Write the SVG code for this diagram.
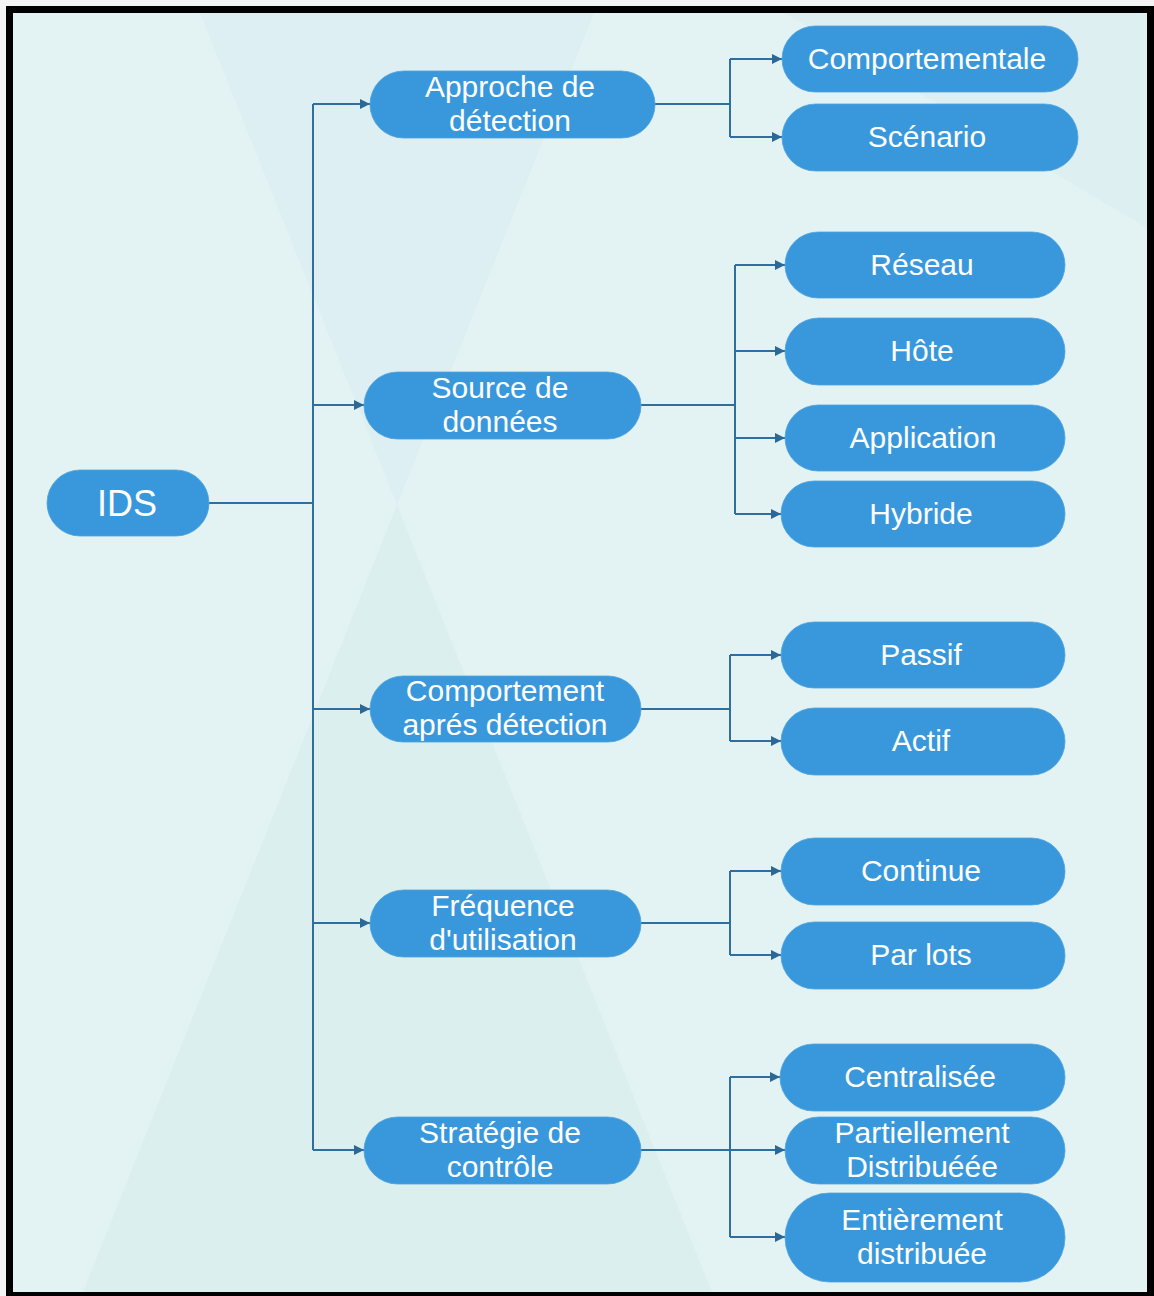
<svg xmlns="http://www.w3.org/2000/svg" width="1154" height="1296" viewBox="0 0 1154 1296">
  <defs>
    <style>
      .node { fill: #3998db; stroke: #4da2de; stroke-width: 0.8; }
      .label { font-family: "Liberation Sans", Arial, sans-serif; font-size: 30px; fill: #ffffff; text-anchor: middle; }
      .big { font-size: 36px; }
      .wire { fill: none; stroke: #2f6f9f; stroke-width: 2; }
      .arrow { marker-end: url(#head); }
    </style>
    <marker id="head" viewBox="0 0 10 10" refX="10" refY="5" markerWidth="11" markerHeight="10" markerUnits="userSpaceOnUse" orient="auto">
      <path d="M0,0 L10,5 L0,10 z" fill="#2b6898"/>
    </marker>
    <clipPath id="inner">
      <rect x="13" y="13" width="1134" height="1279"/>
    </clipPath>
  </defs>

  <!-- page and frame -->
  <rect x="0" y="0" width="1154" height="1296" fill="#f4f4f4"/>
  <rect x="6" y="6" width="1148" height="1290" fill="#000000"/>
  <rect x="13" y="13" width="1134" height="1279" fill="#e3f3f3"/>

  <!-- background facets -->
  <g clip-path="url(#inner)">
    <polygon points="200,13 594,13 397,505" fill="#ddeff2"/>
    <polygon points="397,505 712,1292 83,1292" fill="#dbefee"/>
    <polygon points="785,13 1147,13 1147,228" fill="#ddeff0"/>
  </g>

  <!-- connectors -->
  <g id="connectors">
    <path class="wire" d="M209,503 H313"/>
    <path class="wire" d="M313,104 V1150"/>
    <path class="wire arrow" d="M313,104 H370"/>
    <path class="wire arrow" d="M313,405 H364"/>
    <path class="wire arrow" d="M313,709 H370"/>
    <path class="wire arrow" d="M313,923 H370"/>
    <path class="wire arrow" d="M313,1150 H364"/>

    <path class="wire" d="M655,104 H730 M730,59 V137"/>
    <path class="wire arrow" d="M730,59 H782"/>
    <path class="wire arrow" d="M730,137 H782"/>

    <path class="wire" d="M641,405 H735 M735,265 V514"/>
    <path class="wire arrow" d="M735,265 H785"/>
    <path class="wire arrow" d="M735,351 H785"/>
    <path class="wire arrow" d="M735,438 H785"/>
    <path class="wire arrow" d="M735,514 H781"/>

    <path class="wire" d="M641,709 H730 M730,655 V741"/>
    <path class="wire arrow" d="M730,655 H781"/>
    <path class="wire arrow" d="M730,741 H781"/>

    <path class="wire" d="M641,923 H730 M730,871 V955"/>
    <path class="wire arrow" d="M730,871 H781"/>
    <path class="wire arrow" d="M730,955 H781"/>

    <path class="wire" d="M641,1150 H730 M730,1077 V1237"/>
    <path class="wire arrow" d="M730,1077 H780"/>
    <path class="wire arrow" d="M730,1150 H785"/>
    <path class="wire arrow" d="M730,1237 H785"/>
  </g>

  <!-- root -->
  <g id="ids">
    <rect class="node" x="47" y="470" width="162" height="66" rx="33"/>
    <text class="label big" x="127" y="516">IDS</text>
  </g>

  <!-- first level -->
  <g id="approche">
    <rect class="node" x="370" y="71" width="285" height="67" rx="33.5"/>
    <text class="label" x="510" y="97">Approche de</text>
    <text class="label" x="510" y="131">détection</text>
  </g>
  <g id="source">
    <rect class="node" x="364" y="372" width="277" height="67" rx="33.5"/>
    <text class="label" x="500" y="398">Source de</text>
    <text class="label" x="500" y="432">données</text>
  </g>
  <g id="comportement">
    <rect class="node" x="370" y="676" width="271" height="66" rx="33"/>
    <text class="label" x="505" y="701">Comportement</text>
    <text class="label" x="505" y="735">aprés détection</text>
  </g>
  <g id="frequence">
    <rect class="node" x="370" y="890" width="271" height="67" rx="33.5"/>
    <text class="label" x="503" y="916">Fréquence</text>
    <text class="label" x="503" y="950">d'utilisation</text>
  </g>
  <g id="strategie">
    <rect class="node" x="364" y="1117" width="277" height="67" rx="33.5"/>
    <text class="label" x="500" y="1143">Stratégie de</text>
    <text class="label" x="500" y="1177">contrôle</text>
  </g>

  <!-- second level -->
  <g id="comportementale">
    <rect class="node" x="782" y="26" width="296" height="66" rx="33"/>
    <text class="label" x="927" y="69">Comportementale</text>
  </g>
  <g id="scenario">
    <rect class="node" x="782" y="104" width="296" height="67" rx="33.5"/>
    <text class="label" x="927" y="147">Scénario</text>
  </g>
  <g id="reseau">
    <rect class="node" x="785" y="232" width="280" height="66" rx="33"/>
    <text class="label" x="922" y="275">Réseau</text>
  </g>
  <g id="hote">
    <rect class="node" x="785" y="318" width="280" height="67" rx="33.5"/>
    <text class="label" x="922" y="361">Hôte</text>
  </g>
  <g id="application">
    <rect class="node" x="785" y="405" width="280" height="66" rx="33"/>
    <text class="label" x="923" y="448">Application</text>
  </g>
  <g id="hybride">
    <rect class="node" x="781" y="481" width="284" height="66" rx="33"/>
    <text class="label" x="921" y="524">Hybride</text>
  </g>
  <g id="passif">
    <rect class="node" x="781" y="622" width="284" height="66" rx="33"/>
    <text class="label" x="921" y="665">Passif</text>
  </g>
  <g id="actif">
    <rect class="node" x="781" y="708" width="284" height="67" rx="33.5"/>
    <text class="label" x="921" y="751">Actif</text>
  </g>
  <g id="continue">
    <rect class="node" x="781" y="838" width="284" height="67" rx="33.5"/>
    <text class="label" x="921" y="881">Continue</text>
  </g>
  <g id="parlots">
    <rect class="node" x="781" y="922" width="284" height="67" rx="33.5"/>
    <text class="label" x="921" y="965">Par lots</text>
  </g>
  <g id="centralisee">
    <rect class="node" x="780" y="1044" width="285" height="67" rx="33.5"/>
    <text class="label" x="920" y="1087">Centralisée</text>
  </g>
  <g id="partiellement">
    <rect class="node" x="785" y="1117" width="280" height="67" rx="33.5"/>
    <text class="label" x="922" y="1143">Partiellement</text>
    <text class="label" x="922" y="1177">Distribuéée</text>
  </g>
  <g id="entierement">
    <rect class="node" x="785" y="1193" width="280" height="89" rx="44.5"/>
    <text class="label" x="922" y="1230">Entièrement</text>
    <text class="label" x="922" y="1264">distribuée</text>
  </g>
</svg>
